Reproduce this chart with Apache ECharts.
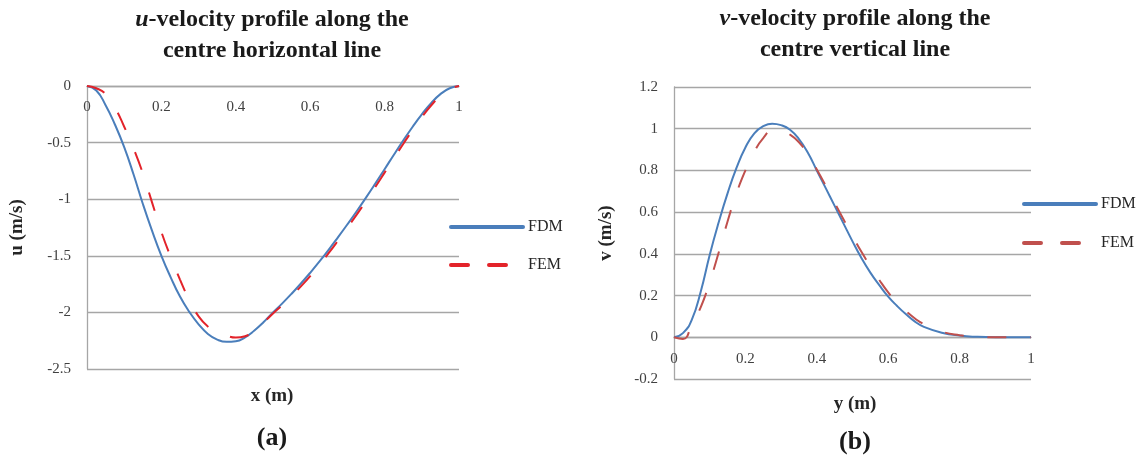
<!DOCTYPE html>
<html>
<head>
<meta charset="utf-8">
<script src="https://cdn.jsdelivr.net/npm/echarts@6/dist/echarts.min.js"></script>
<style>
  html, body { margin: 0; padding: 0; background: #fff; }
  .wrap { position: relative; width: 1136px; height: 455px; }
  #echart1 { position: absolute; left: 0; top: 0; width: 570px; height: 455px; }
  #echart2 { position: absolute; left: 570px; top: 0; width: 566px; height: 455px; }
</style>
</head>
<body>
<div class="wrap">
  <div id="echart1"></div>
  <div id="echart2"></div>
</div>
<script>
// (a) u-velocity along centre horizontal line
const uX = [0, 0.025, 0.05, 0.075, 0.1, 0.125, 0.15, 0.175, 0.2, 0.225, 0.25, 0.275, 0.3, 0.325, 0.35, 0.375, 0.4, 0.425, 0.45, 0.475, 0.5,
  0.525, 0.55, 0.575, 0.6, 0.625, 0.65, 0.675, 0.7, 0.725, 0.75, 0.775, 0.8, 0.825, 0.85, 0.875, 0.9, 0.925, 0.95, 0.975, 1];
const uFDM = [0, -0.04, -0.17, -0.34, -0.54, -0.78, -1.04, -1.28, -1.5, -1.69, -1.86, -1.995, -2.105, -2.19, -2.24, -2.26, -2.255, -2.22, -2.16, -2.085, -2.0,
  -1.92, -1.835, -1.745, -1.65, -1.55, -1.445, -1.335, -1.222, -1.106, -0.986, -0.862, -0.735, -0.607, -0.482, -0.362, -0.25, -0.152, -0.072, -0.02, 0];
const uFEM = [0, -0.02, -0.07, -0.19, -0.36, -0.55, -0.77, -1.03, -1.29, -1.51, -1.71, -1.89, -2.035, -2.125, -2.175, -2.205, -2.222, -2.21, -2.165, -2.09, -2.01,
  -1.935, -1.855, -1.77, -1.68, -1.58, -1.475, -1.365, -1.252, -1.136, -1.016, -0.892, -0.765, -0.637, -0.512, -0.39, -0.275, -0.172, -0.087, -0.027, 0];

// (b) v-velocity along centre vertical line
const vY = [0, 0.025, 0.05, 0.075, 0.1, 0.125, 0.15, 0.175, 0.2, 0.225, 0.25, 0.275, 0.3, 0.325, 0.35, 0.375, 0.4, 0.425, 0.45, 0.475, 0.5,
  0.525, 0.55, 0.575, 0.6, 0.625, 0.65, 0.675, 0.7, 0.75, 0.8, 0.85, 0.9, 0.95, 1];
const vFDM = [0, 0.02, 0.085, 0.22, 0.395, 0.55, 0.69, 0.812, 0.91, 0.978, 1.012, 1.024, 1.017, 0.995, 0.95, 0.885, 0.8, 0.715, 0.63, 0.545, 0.46,
  0.38, 0.31, 0.25, 0.195, 0.15, 0.11, 0.075, 0.05, 0.022, 0.008, 0.002, 0, 0, 0];
const vFEM = [0, -0.008, 0.06, 0.145, 0.265, 0.405, 0.555, 0.69, 0.8, 0.89, 0.955, 0.99, 0.99, 0.972, 0.935, 0.878, 0.805, 0.727, 0.645, 0.565, 0.485,
  0.41, 0.34, 0.275, 0.215, 0.165, 0.125, 0.09, 0.063, 0.027, 0.01, 0.002, 0, 0, 0];

const xTicks = { min: 0, max: 1, interval: 0.2 };
const uTicks = { min: -2.5, max: 0, interval: 0.5 };
const vTicks = { min: -0.2, max: 1.2, interval: 0.2 };

const SERIF = "'Liberation Serif', 'Times New Roman', serif";
const BLUE = "#4a7ebb";

function pairs(xs, ys) {
  return xs.map((x, i) => [x, ys[i]]);
}

function makeOption(cfg) {
  // x axis sits on y = 0 (Excel style), labels just under it
  let gridH = 455 - cfg.grid.top - cfg.grid.bottom;
  let zeroOffset = -gridH * (0 - cfg.yTicks.min) / (cfg.yTicks.max - cfg.yTicks.min);
  return {
    animation: false,
    grid: cfg.grid,
    legend: {
      orient: "vertical",
      left: cfg.legendLeft,
      top: cfg.legendTop,
      padding: 0,
      itemWidth: 72,
      itemHeight: 14,
      itemGap: cfg.legendGap,
      textStyle: { fontFamily: SERIF, fontSize: 16, color: "#262626" },
      itemStyle: { opacity: 0, borderWidth: 0 },
      lineStyle: { width: 4, cap: "round" },
      data: [
        { name: "FDM" },
        { name: "FEM", lineStyle: { type: [17, 21], cap: "round" } },
      ],
    },
    xAxis: {
      type: "value",
      min: xTicks.min,
      max: xTicks.max,
      interval: xTicks.interval,
      position: "bottom",
      offset: zeroOffset,
      axisLine: { onZero: false, lineStyle: { color: "#a6a6a6", width: 1.3 } },
      axisTick: { show: false },
      splitLine: { show: false },
      axisLabel: { fontFamily: SERIF, fontSize: 15, color: "#404040", margin: 14 },
    },
    yAxis: {
      type: "value",
      min: cfg.yTicks.min,
      max: cfg.yTicks.max,
      interval: cfg.yTicks.interval,
      name: cfg.yName,
      nameLocation: "middle",
      nameGap: cfg.yNameGap,
      nameRotate: 90,
      nameTextStyle: { fontFamily: SERIF, fontSize: 19, fontWeight: "bold", color: "#262626" },
      axisLine: { show: true, onZero: false, lineStyle: { color: "#a6a6a6", width: 1.3 } },
      axisTick: { show: false },
      splitLine: { lineStyle: { color: "#a6a6a6", width: 1.3 } },
      axisLabel: { fontFamily: SERIF, fontSize: 15, color: "#404040", margin: 16 },
    },
    graphic: [
      {
        type: "text",
        x: cfg.titleX,
        y: cfg.titleY,
        style: {
          text: cfg.title,
          textAlign: "center",
          textVerticalAlign: "top",
          fontFamily: SERIF,
          fontSize: 24,
          fontWeight: "bold",
          lineHeight: 31,
          fill: "#1a1a1a",
          rich: {
            i: { fontFamily: SERIF, fontSize: 24, fontWeight: "bold", fontStyle: "italic", lineHeight: 31, fill: "#1a1a1a" },
          },
        },
      },
      {
        type: "text",
        x: cfg.titleX,
        y: cfg.xNameY,
        style: {
          text: cfg.xName,
          textAlign: "center",
          textVerticalAlign: "middle",
          fontFamily: SERIF,
          fontSize: 19,
          fontWeight: "bold",
          fill: "#262626",
        },
      },
      {
        type: "text",
        x: cfg.titleX,
        y: cfg.capY,
        style: {
          text: cfg.caption,
          textAlign: "center",
          textVerticalAlign: "middle",
          fontFamily: SERIF,
          fontSize: 26,
          fontWeight: "bold",
          fill: "#1a1a1a",
        },
      },
    ],
    series: [
      {
        name: "FDM",
        type: "line",
        smooth: 0.5,
        symbol: "none",
        lineStyle: { color: BLUE, width: 2 },
        itemStyle: { color: BLUE },
        data: cfg.fdm,
      },
      {
        name: "FEM",
        type: "line",
        smooth: 0.5,
        symbol: "none",
        lineStyle: { color: cfg.femColor, width: 2, type: [19, 24] },
        itemStyle: { color: cfg.femColor },
        data: cfg.fem,
      },
    ],
  };
}

let myEcharts1 = echarts.init(document.getElementById("echart1"));
myEcharts1.setOption(makeOption({
  grid: { left: 87, right: 111, top: 86, bottom: 86 },
  legendLeft: 449,
  legendTop: 219,
  legendGap: 22,
  yTicks: uTicks,
  yName: "u (m/s)",
  yNameGap: 60,
  title: "{i|u}-velocity profile along the\ncentre horizontal line",
  titleX: 272,
  titleY: 4,
  xName: "x (m)",
  xNameY: 396,
  caption: "(a)",
  capY: 438,
  femColor: "#e3232a",
  fdm: pairs(uX, uFDM),
  fem: pairs(uX, uFEM),
}));

let myEcharts2 = echarts.init(document.getElementById("echart2"));
myEcharts2.setOption(makeOption({
  grid: { left: 104, right: 105, top: 87, bottom: 76 },
  legendLeft: 452,
  legendTop: 196,
  legendGap: 23,
  yTicks: vTicks,
  yName: "v (m/s)",
  yNameGap: 58,
  title: "{i|v}-velocity profile along the\ncentre vertical line",
  titleX: 285,
  titleY: 3,
  xName: "y (m)",
  xNameY: 404,
  caption: "(b)",
  capY: 442,
  femColor: "#c0504d",
  fdm: pairs(vY, vFDM),
  fem: pairs(vY, vFEM),
}));
</script>
</body>
</html>
